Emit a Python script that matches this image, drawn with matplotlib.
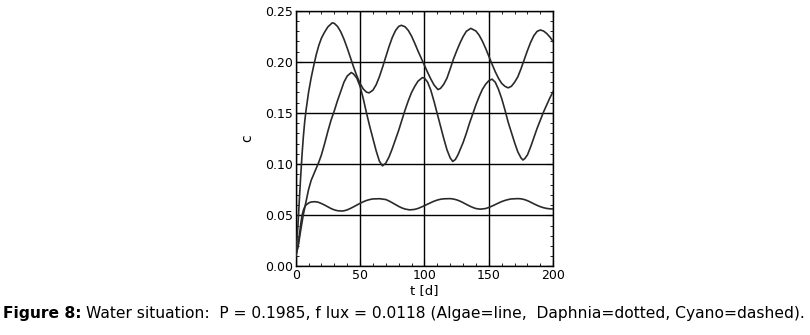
import numpy as np
import matplotlib
matplotlib.use("Agg")
import matplotlib.pyplot as plt
from matplotlib.ticker import MultipleLocator

plt.rcParams['font.family'] = ['DejaVu Sans']

# curve 1 (top, largest oscillation)
t_top = [0, 1, 2, 3, 4, 5, 6, 7, 8, 10, 12, 14, 16, 18, 20, 22.5, 25, 28.4, 30, 32.5,
         35, 37.5, 40, 42.5, 45, 47.5, 50, 52.5, 55, 57, 60, 62.5, 65, 67.5, 70,
         72.5, 75, 77.5, 80, 82.1, 85, 87.5, 90, 92.5, 95, 97.5, 100, 102.5, 105,
         107.5, 110.5, 112.5, 115, 117.5, 120, 122.5, 125, 127.5, 130, 132.5, 136,
         140, 142.5, 145, 147.5, 150, 152.5, 155, 157.5, 160, 162.5, 165, 167.5, 170,
         172.5, 175, 177.5, 180, 182.5, 185, 187.5, 190, 192.5, 195, 197.5, 200]
c_top = [0.010, 0.025, 0.045, 0.068, 0.090, 0.110, 0.127, 0.141, 0.152, 0.170, 0.184,
         0.196, 0.207, 0.216, 0.223, 0.229, 0.234, 0.238, 0.2375, 0.2345, 0.2293,
         0.2221, 0.2135, 0.2042, 0.1948, 0.1862, 0.1788, 0.1734, 0.1703, 0.1696,
         0.1722, 0.1775, 0.1853, 0.1947, 0.2048, 0.2148, 0.2236, 0.2304, 0.2345,
         0.2356, 0.2341, 0.2305, 0.2250, 0.2180, 0.2105, 0.2035, 0.1965, 0.1895,
         0.1830, 0.1772, 0.1728, 0.1740, 0.1780, 0.1840, 0.1930, 0.2025, 0.2105,
         0.2180, 0.2245, 0.2297, 0.2326, 0.2300, 0.2259, 0.2201, 0.2131, 0.2054,
         0.1976, 0.1902, 0.1838, 0.1788, 0.1760, 0.1745, 0.1760, 0.1800, 0.1852,
         0.1932, 0.2021, 0.2110, 0.2191, 0.2256, 0.2297, 0.2310, 0.2300, 0.2275,
         0.2240, 0.2196]

# curve 2 (middle)
t_mid = [0, 2, 4, 6, 8, 10, 12, 14, 16, 18, 20, 22.5, 25, 27.5, 30, 32.5, 35, 37.5,
         40, 43.2, 45, 47.5, 50, 52.5, 55, 57.5, 60, 62.5, 65, 67.4, 70, 72.5, 75,
         77.5, 80, 82.5, 85, 87.5, 90, 92.5, 95, 98.4, 100, 102.5, 105, 107.5, 110,
         112.5, 115, 117.5, 120, 122, 124, 126, 128, 130, 132.5, 135, 137.5, 140,
         142.5, 145, 147.5, 150, 152.5, 155, 157.5, 160, 162.5, 165, 167.5, 170,
         172.5, 175, 176.5, 178, 180, 182.5, 185, 187.5, 190, 192.5, 195, 197.5, 200]
c_mid = [0.010, 0.020, 0.036, 0.051, 0.063, 0.075, 0.084, 0.090, 0.096, 0.102, 0.109,
         0.120, 0.132, 0.143, 0.152, 0.162, 0.171, 0.180, 0.186, 0.1895, 0.188, 0.184,
         0.176, 0.164, 0.150, 0.137, 0.125, 0.113, 0.103, 0.0983, 0.101, 0.107,
         0.115, 0.124, 0.133, 0.143, 0.153, 0.162, 0.170, 0.176, 0.181, 0.1845,
         0.184, 0.180, 0.172, 0.161, 0.149, 0.137, 0.125, 0.114, 0.106, 0.1026,
         0.1045, 0.109, 0.115, 0.121, 0.130, 0.140, 0.149, 0.158, 0.166, 0.173,
         0.178, 0.1815, 0.183, 0.180, 0.173, 0.164, 0.153, 0.141, 0.131, 0.121,
         0.112, 0.106, 0.104, 0.1055, 0.109, 0.117, 0.126, 0.135, 0.143, 0.151,
         0.158, 0.165, 0.171]

# curve 3 (bottom, small oscillation)
t_low = [0, 1, 2, 3, 4, 5, 6, 7, 8, 10, 12, 14.9, 17.5, 20, 22.5, 25, 27.5, 30, 32.5,
         35.5, 37.5, 40, 42.5, 45, 47.5, 50, 52.5, 55, 57.5, 60, 65.3, 70, 72.5, 75,
         77.5, 80, 82.5, 85, 88.6, 92.5, 95, 97.5, 100, 102.5, 105, 107.5, 110, 112.5,
         115, 119.9, 122.5, 125, 127.5, 130, 132.5, 135, 137.5, 140, 143.3, 147.5,
         150, 152.5, 155, 157.5, 160, 162.5, 165, 167.5, 172.7, 175, 177.5, 180,
         182.5, 185, 187.5, 190, 192.5, 195, 197.5, 200]
c_low = [0.010, 0.015, 0.022, 0.032, 0.042, 0.050, 0.055, 0.058, 0.060, 0.062, 0.063,
         0.0633, 0.0628, 0.0615, 0.0600, 0.0583, 0.0566, 0.0553, 0.0545, 0.0542,
         0.0544, 0.0553, 0.0567, 0.0583, 0.0600, 0.0617, 0.0632, 0.0645, 0.0654,
         0.0660, 0.0662, 0.0654, 0.0640, 0.0623, 0.0605, 0.0587, 0.0572, 0.0561,
         0.0553, 0.0558, 0.0567, 0.0580, 0.0594, 0.0609, 0.0624, 0.0638, 0.0649,
         0.0657, 0.0661, 0.0663, 0.0659, 0.0651, 0.0639, 0.0624, 0.0607, 0.0591,
         0.0577, 0.0566, 0.0560, 0.0566, 0.0577, 0.0590, 0.0605, 0.0620, 0.0634,
         0.0645, 0.0654, 0.0660, 0.0663, 0.0661, 0.0654, 0.0643, 0.0628, 0.0612,
         0.0597, 0.0584, 0.0574, 0.0567, 0.0563, 0.0562]

x_ticks = [0, 50, 100, 150, 200]
y_ticks = [0.00, 0.05, 0.10, 0.15, 0.20, 0.25]

fig = plt.figure(figsize=(8.1, 3.35), dpi=100)
ax = fig.add_axes([0.365, 0.2045, 0.318, 0.764])

for t, c in [(t_top, c_top), (t_mid, c_mid), (t_low, c_low)]:
    ax.plot(t, c, color='#2a2a2a', linewidth=1.2, zorder=3)

ax.set_xlim(0, 200)
ax.set_ylim(0, 0.25)
ax.set_xticks(x_ticks)
ax.set_yticks(y_ticks)
ax.set_yticklabels([f"{v:.2f}" for v in y_ticks])
ax.xaxis.set_minor_locator(MultipleLocator(10))
ax.yaxis.set_minor_locator(MultipleLocator(0.01))
ax.tick_params(which='both', direction='in', top=True, right=True,
               labelsize=9, colors='black', pad=2)
ax.tick_params(which='major', length=4, width=0.8)
ax.tick_params(which='minor', length=2.5, width=0.6)
ax.grid(True, which='major', color='black', linewidth=1.0)
for spine in ax.spines.values():
    spine.set_linewidth(1.0)

ax.set_xlabel('t [d]', fontsize=9.5, labelpad=1)
ax.set_ylabel('c', fontsize=10, labelpad=8)

cap_font = ['Liberation Sans Narrow', 'DejaVu Sans']
bold = fig.text(0.004, 0.052, 'Figure 8:', fontsize=11.2, fontweight='bold',
                family=cap_font, va='baseline')
fig.canvas.draw()
bb = bold.get_window_extent()
x_next = (bb.x1 + 4) / fig.bbox.width
fig.text(x_next, 0.052,
         'Water situation:  P = 0.1985, f lux = 0.0118 (Algae=line,  Daphnia=dotted, Cyano=dashed).',
         fontsize=11.2, family=cap_font, va='baseline')

fig.savefig('out.png', dpi=100)
